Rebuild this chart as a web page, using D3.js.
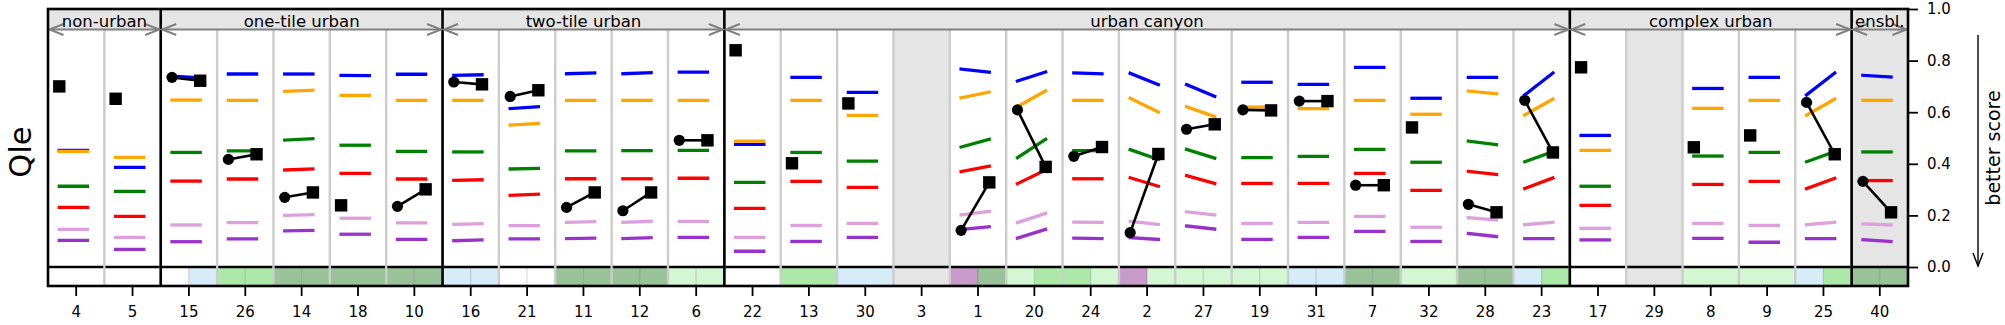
<!DOCTYPE html>
<html><head><meta charset="utf-8">
<script src="https://cdn.jsdelivr.net/npm/d3@7"></script>
<style>body{margin:0;background:#fff} svg{display:block;font-family:"DejaVu Sans",sans-serif}</style>
</head><body><svg id="c" width="2005" height="325"></svg>
<script>
// ---------------- DATA ----------------
const categories = ["4","5","15","26","14","18","10","16","21","11","12","6","22","13","30","3","1","20","24","2","27","19","31","7","32","28","23","17","29","8","9","25","40"];
const groupNames = ["non-urban","one-tile urban","two-tile urban","urban canyon","complex urban","ensbl."];
const groupSizes = [2,5,5,15,5,1];
const shadedColumns = ["3","29","40"];
const yTicks = [0,0.2,0.4,0.6,0.8,1.0];

// each entry: [start, end] or null
const blue = [[0.452,0.452],[0.386,0.386],[0.740,0.733],[0.748,0.748],[0.748,0.748],[0.743,0.742],[0.747,0.747],[0.743,0.745],[0.614,0.621],[0.749,0.752],[0.749,0.753],[0.755,0.755],[0.475,0.475],[0.735,0.735],[0.677,0.677],null,[0.767,0.755],[0.721,0.756],[0.752,0.749],[0.751,0.707],[0.707,0.661],[0.716,0.716],[0.708,0.708],[0.774,0.774],[0.654,0.654],[0.735,0.735],[0.667,0.752],[0.510,0.510],null,[0.692,0.692],[0.735,0.735],[0.667,0.752],[0.743,0.736]];
const orange = [[0.448,0.448],[0.425,0.425],[0.647,0.647],[0.646,0.646],[0.681,0.685],[0.665,0.665],[0.646,0.646],[0.646,0.646],[0.550,0.556],[0.646,0.646],[0.646,0.646],[0.646,0.646],[0.488,0.488],[0.646,0.646],[0.588,0.588],null,[0.656,0.678],[0.621,0.683],[0.646,0.646],[0.654,0.601],[0.621,0.583],[0.620,0.620],[0.614,0.614],[0.646,0.646],[0.592,0.592],[0.682,0.672],[0.589,0.651],[0.452,0.452],null,[0.615,0.615],[0.646,0.646],[0.588,0.651],[0.646,0.646]];
const green = [[0.313,0.313],[0.293,0.293],[0.444,0.444],[0.450,0.450],[0.492,0.497],[0.472,0.472],[0.448,0.448],[0.446,0.446],[0.380,0.382],[0.450,0.450],[0.451,0.451],[0.452,0.452],[0.328,0.328],[0.444,0.444],[0.410,0.410],null,[0.465,0.495],[0.424,0.495],[0.451,0.451],[0.455,0.417],[0.456,0.422],[0.424,0.424],[0.429,0.429],[0.456,0.456],[0.406,0.406],[0.488,0.474],[0.408,0.447],[0.313,0.313],null,[0.430,0.430],[0.444,0.444],[0.408,0.447],[0.446,0.446]];
const red = [[0.231,0.231],[0.196,0.196],[0.333,0.333],[0.341,0.341],[0.376,0.380],[0.363,0.363],[0.341,0.341],[0.336,0.338],[0.278,0.282],[0.342,0.342],[0.342,0.342],[0.344,0.344],[0.227,0.227],[0.332,0.332],[0.309,0.309],null,[0.370,0.391],[0.323,0.376],[0.342,0.342],[0.346,0.313],[0.354,0.324],[0.324,0.324],[0.324,0.324],[0.363,0.363],[0.297,0.297],[0.371,0.359],[0.304,0.345],[0.239,0.239],null,[0.320,0.320],[0.332,0.332],[0.304,0.344],[0.335,0.335]];
const plum = [[0.146,0.146],[0.115,0.115],[0.163,0.163],[0.172,0.172],[0.200,0.203],[0.189,0.189],[0.171,0.171],[0.165,0.168],[0.160,0.160],[0.173,0.176],[0.173,0.177],[0.177,0.177],[0.115,0.115],[0.161,0.161],[0.169,0.169],null,[0.202,0.216],[0.172,0.208],[0.174,0.173],[0.177,0.165],[0.214,0.202],[0.169,0.169],[0.173,0.173],[0.196,0.196],[0.154,0.154],[0.191,0.182],[0.164,0.173],[0.150,0.150],null,[0.169,0.169],[0.161,0.161],[0.164,0.173],[0.167,0.163]];
const purple = [[0.103,0.103],[0.068,0.068],[0.098,0.098],[0.109,0.109],[0.140,0.142],[0.127,0.127],[0.107,0.107],[0.102,0.105],[0.109,0.109],[0.110,0.112],[0.110,0.114],[0.115,0.115],[0.061,0.061],[0.099,0.099],[0.115,0.115],null,[0.146,0.156],[0.112,0.146],[0.112,0.110],[0.114,0.107],[0.159,0.147],[0.107,0.107],[0.115,0.115],[0.138,0.138],[0.099,0.099],[0.130,0.118],[0.110,0.110],[0.105,0.105],null,[0.111,0.111],[0.096,0.096],[0.110,0.110],[0.106,0.099]];

const circleVals = [null,null,0.735,0.417,0.270,null,0.235,0.717,0.661,0.231,0.218,0.491,null,null,null,null,0.142,0.609,0.429,0.133,0.534,0.609,0.643,0.317,null,0.243,0.646,null,null,null,null,0.638,0.332];
const squareVals = [0.700,0.652,0.722,0.437,0.289,0.239,0.301,0.708,0.685,0.289,0.289,0.491,0.840,0.402,0.634,null,0.328,0.388,0.465,0.438,0.553,0.607,0.643,0.317,0.541,0.212,0.444,0.774,null,0.464,0.510,0.437,0.212];

// strip categories under each column (start cell, end cell)
const stripStart = [null,null,"white","lightgreen","darkgreen",null,"darkgreen","lightblue","white","darkgreen","darkgreen","palegreen",null,null,null,null,"plum","palegreen","lightgreen","plum","palegreen","palegreen","lightblue","darkgreen",null,"darkgreen","lightblue",null,null,null,null,"lightblue","darkgreen"];
const stripEnd = [null,null,"lightblue","lightgreen","darkgreen","darkgreen","darkgreen","lightblue","white","darkgreen","darkgreen","palegreen",null,"lightgreen","lightblue",null,"darkgreen","lightgreen","palegreen","palegreen","palegreen","palegreen","lightblue","darkgreen","palegreen","darkgreen","lightgreen",null,null,"palegreen","palegreen","lightgreen","darkgreen"];

// ---------------- STYLE ----------------
const seriesList = [
  {vals: blue, color: "#0000ff"},
  {vals: orange, color: "#ffa500"},
  {vals: green, color: "#008000"},
  {vals: red, color: "#ff0000"},
  {vals: plum, color: "#dda0dd"},
  {vals: purple, color: "#9932cc"}
];
const stripColors = {white:"#ffffff", lightblue:"#d6ecf9", lightgreen:"#ace9a8", darkgreen:"#99c299", palegreen:"#d3f6d3", plum:"#c99bcb"};
const SHADE = "#e5e5e5";
const STRIP_BOTTOM = -0.0736, HEADER_BOTTOM = 0.9205;

const svg = d3.select("#c");
const x = d3.scaleBand().domain(categories).range([48,1908]);
const bw = x.bandwidth();
const y = d3.scaleLinear().domain([0,1]).range([267,9]);
const cx = c => x(c) + bw/2;
const xl = c => cx(c) - 0.3*bw;
const xr = c => cx(c) + 0.2*bw;

// header band
svg.append("rect").attr("x", x.range()[0]).attr("y", y(1)).attr("width", x.range()[1]-x.range()[0])
  .attr("height", y(HEADER_BOTTOM)-y(1)).attr("fill", SHADE);

// shaded columns
shadedColumns.forEach(c => {
  const i = categories.indexOf(c);
  const bottom = (stripEnd[i] ? 0 : STRIP_BOTTOM);
  svg.append("rect").attr("x", x(c)).attr("y", y(HEADER_BOTTOM)).attr("width", bw)
    .attr("height", y(bottom)-y(HEADER_BOTTOM)).attr("fill", SHADE);
});

// strip cells
const cellG = svg.append("g");
categories.forEach((c,i) => {
  if (circleVals[i] != null) {
    if (stripStart[i]) cellG.append("rect").attr("x", x(c)).attr("y", y(0)).attr("width", bw/2).attr("height", y(STRIP_BOTTOM)-y(0))
      .attr("fill", stripColors[stripStart[i]]).attr("stroke","rgba(0,0,0,0.12)").attr("stroke-width",1);
    if (stripEnd[i]) cellG.append("rect").attr("x", cx(c)).attr("y", y(0)).attr("width", bw/2).attr("height", y(STRIP_BOTTOM)-y(0))
      .attr("fill", stripColors[stripEnd[i]]).attr("stroke","rgba(0,0,0,0.12)").attr("stroke-width",1);
  } else if (stripEnd[i]) {
    cellG.append("rect").attr("x", x(c)).attr("y", y(0)).attr("width", bw).attr("height", y(STRIP_BOTTOM)-y(0))
      .attr("fill", stripColors[stripEnd[i]]);
  }
});

// zero line
svg.append("line").attr("x1", x.range()[0]).attr("x2", x.range()[1]).attr("y1", y(0)).attr("y2", y(0))
  .attr("stroke","#000").attr("stroke-width",2.6);

// gray column separators
categories.slice(1).forEach(c => {
  svg.append("line").attr("x1", x(c)).attr("x2", x(c)).attr("y1", y(HEADER_BOTTOM)).attr("y2", y(STRIP_BOTTOM))
    .attr("stroke","#cccccc").attr("stroke-width",2.4);
});

// series segments
const segG = svg.append("g");
seriesList.forEach(s => {
  categories.forEach((c,i) => {
    const v = s.vals[i];
    if (!v) return;
    segG.append("line").attr("x1", xl(c)).attr("x2", xr(c)).attr("y1", y(v[0])).attr("y2", y(v[1]))
      .attr("stroke", s.color).attr("stroke-width", 3.3).attr("stroke-linecap","square");
  });
});

// markers
const mG = svg.append("g");
categories.forEach((c,i) => {
  const a = circleVals[i], b = squareVals[i];
  if (a != null && b != null) {
    mG.append("line").attr("x1", xl(c)).attr("x2", xr(c)).attr("y1", y(a)).attr("y2", y(b))
      .attr("stroke","#000").attr("stroke-width",2.6);
  }
  if (a != null) mG.append("circle").attr("cx", xl(c)).attr("cy", y(a)).attr("r", 5.6).attr("fill","#000");
  if (b != null) {
    const px = (a != null) ? xr(c) : xl(c);
    mG.append("rect").attr("x", px-6.2).attr("y", y(b)-6.2).attr("width",12.4).attr("height",12.4).attr("fill","#000");
  }
});

// groups: separators, arrows, labels
let start = 0;
const groupBounds = groupSizes.map(n => { const b = [x(categories[start]), x(categories[start+n-1])+bw]; start += n; return b; });
groupBounds.slice(1).forEach(b => {
  svg.append("line").attr("x1", b[0]).attr("x2", b[0]).attr("y1", y(1)).attr("y2", y(STRIP_BOTTOM))
    .attr("stroke","#000").attr("stroke-width",2.6);
});
const ay = y(HEADER_BOTTOM);
groupBounds.forEach((b,gi) => {
  const l = b[0]+1.5, r = b[1]-1.5;
  svg.append("line").attr("x1", l).attr("x2", r).attr("y1", ay).attr("y2", ay).attr("stroke","#808080").attr("stroke-width",2);
  svg.append("path").attr("d", `M${l+14},${ay-5.5}L${l},${ay}L${l+14},${ay+5.5}`).attr("fill","none").attr("stroke","#808080").attr("stroke-width",2);
  svg.append("path").attr("d", `M${r-14},${ay-5.5}L${r},${ay}L${r-14},${ay+5.5}`).attr("fill","none").attr("stroke","#808080").attr("stroke-width",2);
  svg.append("text").attr("x", (b[0]+b[1])/2).attr("y", 26.8).attr("text-anchor","middle")
    .attr("font-size","16.5px").attr("fill","#000").text(groupNames[gi]);
});

// frame
svg.append("rect").attr("x", x.range()[0]).attr("y", y(1)).attr("width", x.range()[1]-x.range()[0])
  .attr("height", y(STRIP_BOTTOM)-y(1)).attr("fill","none").attr("stroke","#000").attr("stroke-width",2.6);

// x axis
const xAxis = svg.append("g").attr("transform", `translate(0,${y(STRIP_BOTTOM)})`)
  .call(d3.axisBottom(x).tickSize(10).tickPadding(10));
xAxis.select(".domain").remove();
xAxis.selectAll("line").attr("stroke-width",1.8);
xAxis.selectAll("text").attr("font-size","15px").attr("font-family","DejaVu Sans");

// y axis (right)
const yAxis = svg.append("g").attr("transform", `translate(${x.range()[1]},0)`)
  .call(d3.axisRight(y).tickValues(yTicks).tickFormat(d3.format(".1f")).tickSize(10).tickPadding(9));
yAxis.select(".domain").remove();
yAxis.selectAll("line").attr("stroke-width",1.8);
yAxis.selectAll("text").attr("font-size","15px").attr("font-family","DejaVu Sans");

// y label
svg.append("text").attr("transform","translate(31,152) rotate(-90)").attr("text-anchor","middle")
  .attr("font-size","30.5px").text("Qle");

// better score arrow
svg.append("line").attr("x1",1978).attr("x2",1978).attr("y1",35).attr("y2",266).attr("stroke","#000").attr("stroke-width",1.4);
svg.append("path").attr("d","M1973,253L1978,266L1983,253").attr("fill","none").attr("stroke","#000").attr("stroke-width",1.4);
svg.append("text").attr("transform","translate(2000,148) rotate(-90)").attr("text-anchor","middle")
  .attr("font-size","19px").text("better score");
</script>
</body></html>
